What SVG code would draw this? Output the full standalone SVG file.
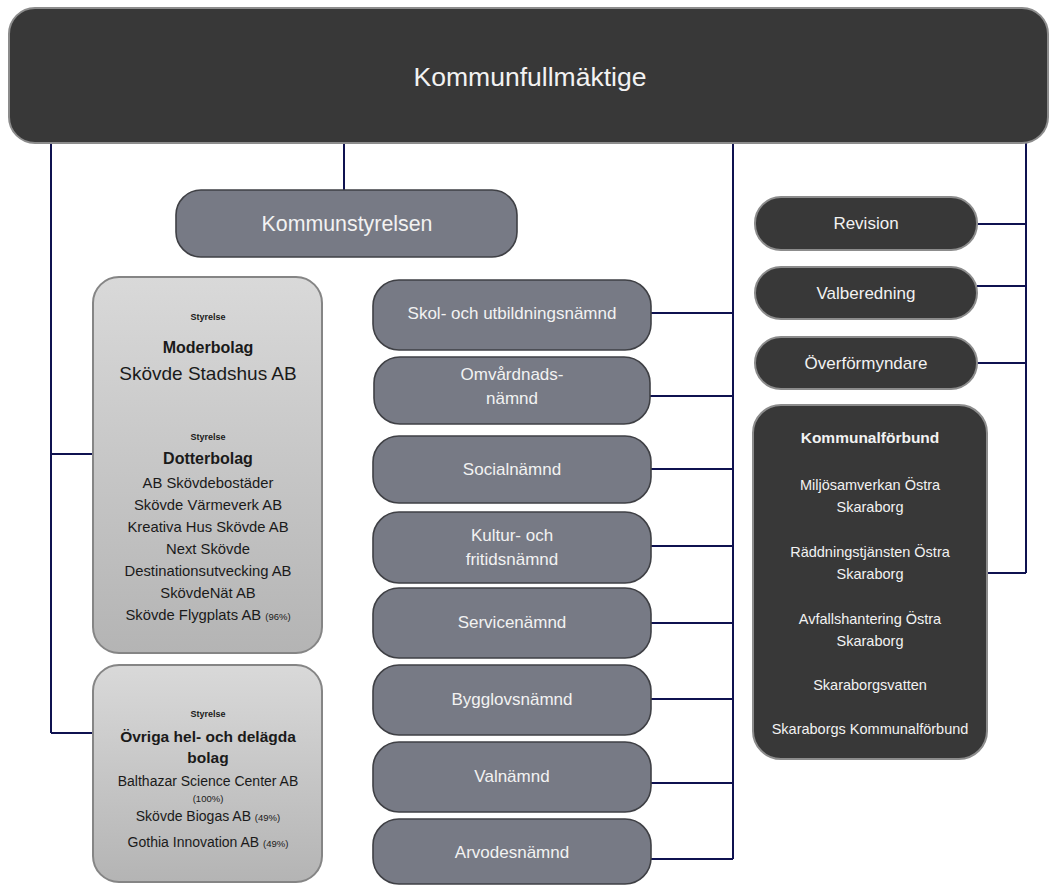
<svg xmlns="http://www.w3.org/2000/svg" width="1052" height="885" viewBox="0 0 1052 885">
<defs>
<linearGradient id="lg" x1="0" y1="0" x2="0" y2="1">
<stop offset="0" stop-color="#d9d9d9"/>
<stop offset="1" stop-color="#b4b4b4"/>
</linearGradient>
<style>
text{font-family:"Liberation Sans",Arial,sans-serif;text-anchor:middle}
.dark{fill:#383838;stroke:#8c8c8c;stroke-width:2}
.mid{fill:#777a85;stroke:#3f4045;stroke-width:1.6}
.light{fill:url(#lg);stroke:#858585;stroke-width:2}
.wt{fill:#f2f2f2}
.bt{fill:#1a1a1a}
.n{font-size:17px}
.r{font-size:14.5px}
.b{font-weight:bold}
.s{font-size:9px;font-weight:bold}
.l{font-size:14.8px}
.p{font-size:9.5px}
.con{stroke:#0f1250;stroke-width:2;fill:none}
</style>
</defs>
<rect width="1052" height="885" fill="#ffffff"/>
<g id="connectors" class="con">
<path d="M51 143 V733 M51 454 H93 M51 733 H93"/>
<path d="M344 143 V190"/>
<path d="M733 143 V859 M651 313 H733 M650 396 H733 M651 469 H733 M651 546 H733 M651 623 H733 M651 699 H733 M651 783 H733 M651 859 H733"/>
<path d="M1026 143 V573 M977 224 H1026 M977 286 H1026 M977 363 H1026 M987 573 H1026"/>
</g>
<g id="kommunfullmaktige">
<rect class="dark" x="9" y="8" width="1039" height="135" rx="26"/>
<text class="wt" x="530" y="86" font-size="26" textLength="233" lengthAdjust="spacingAndGlyphs">Kommunfullmäktige</text>
</g>
<g id="kommunstyrelsen">
<rect class="mid" x="176" y="190" width="341" height="67" rx="25"/>
<text class="wt" x="347" y="231" font-size="22" textLength="171" lengthAdjust="spacingAndGlyphs">Kommunstyrelsen</text>
</g>
<g id="moderbolag">
<rect class="light" x="93" y="277" width="229" height="376" rx="26"/>
<text class="bt s" x="208" y="320">Styrelse</text>
<text class="bt b" x="208" y="353" font-size="16">Moderbolag</text>
<text class="bt" x="208" y="380" font-size="19">Skövde Stadshus AB</text>
<text class="bt s" x="208" y="440">Styrelse</text>
<text class="bt b" x="208" y="464" font-size="16">Dotterbolag</text>
<text class="bt l" x="208" y="488">AB Skövdebostäder</text>
<text class="bt l" x="208" y="510">Skövde Värmeverk AB</text>
<text class="bt l" x="208" y="532">Kreativa Hus Skövde AB</text>
<text class="bt l" x="208" y="554">Next Skövde</text>
<text class="bt l" x="208" y="576">Destinationsutvecking AB</text>
<text class="bt l" x="208" y="598">SkövdeNät AB</text>
<text class="bt l" x="208" y="620">Skövde Flygplats AB <tspan class="p">(96%)</tspan></text>
</g>
<g id="ovriga-bolag">
<rect class="light" x="93" y="665" width="229" height="217" rx="26"/>
<text class="bt s" x="208" y="717">Styrelse</text>
<text class="bt b" x="208" y="742" font-size="15.5">Övriga hel- och delägda</text>
<text class="bt b" x="208" y="763" font-size="15.5">bolag</text>
<text class="bt" x="208" y="786" font-size="14">Balthazar Science Center AB</text>
<text class="bt p" x="208" y="802">(100%)</text>
<text class="bt" x="208" y="821" font-size="14">Skövde Biogas AB <tspan class="p">(49%)</tspan></text>
<text class="bt" x="208" y="847" font-size="14">Gothia Innovation AB <tspan class="p">(49%)</tspan></text>
</g>
<g id="skol-och-utbildningsnamnd">
<rect class="mid" x="373" y="280" width="278" height="70" rx="26"/>
<text class="wt n" x="512" y="319">Skol- och utbildningsnämnd</text>
</g>
<g id="omvardnadsnamnd">
<rect class="mid" x="374" y="357" width="276" height="67" rx="26"/>
<text class="wt n" x="512" y="380">Omvårdnads-</text>
<text class="wt n" x="512" y="404">nämnd</text>
</g>
<g id="socialnamnd">
<rect class="mid" x="373" y="436" width="278" height="67" rx="26"/>
<text class="wt n" x="512" y="475">Socialnämnd</text>
</g>
<g id="kultur-och-fritidsnamnd">
<rect class="mid" x="373" y="512" width="278" height="71" rx="26"/>
<text class="wt n" x="512" y="541">Kultur- och</text>
<text class="wt n" x="512" y="565">fritidsnämnd</text>
</g>
<g id="servicenamnd">
<rect class="mid" x="373" y="588" width="278" height="70" rx="26"/>
<text class="wt n" x="512" y="628">Servicenämnd</text>
</g>
<g id="bygglovsnamnd">
<rect class="mid" x="373" y="665" width="278" height="70" rx="26"/>
<text class="wt n" x="512" y="705">Bygglovsnämnd</text>
</g>
<g id="valnamnd">
<rect class="mid" x="373" y="742" width="278" height="70" rx="26"/>
<text class="wt n" x="512" y="782">Valnämnd</text>
</g>
<g id="arvodesnamnd">
<rect class="mid" x="373" y="819" width="278" height="65" rx="26"/>
<text class="wt n" x="512" y="858">Arvodesnämnd</text>
</g>
<g id="revision">
<rect class="dark" x="755" y="197" width="222" height="53" rx="26"/>
<text class="wt n" x="866" y="229">Revision</text>
</g>
<g id="valberedning">
<rect class="dark" x="755" y="267" width="222" height="52" rx="26"/>
<text class="wt n" x="866" y="299">Valberedning</text>
</g>
<g id="overformyndare">
<rect class="dark" x="755" y="337" width="222" height="52" rx="26"/>
<text class="wt n" x="866" y="369">Överförmyndare</text>
</g>
<g id="kommunalforbund">
<rect class="dark" x="753" y="405" width="234" height="354" rx="28"/>
<text class="wt b" x="870" y="443" font-size="15.5">Kommunalförbund</text>
<text class="wt r" x="870" y="490">Miljösamverkan Östra</text>
<text class="wt r" x="870" y="512">Skaraborg</text>
<text class="wt r" x="870" y="557">Räddningstjänsten Östra</text>
<text class="wt r" x="870" y="579">Skaraborg</text>
<text class="wt r" x="870" y="624">Avfallshantering Östra</text>
<text class="wt r" x="870" y="646">Skaraborg</text>
<text class="wt r" x="870" y="690">Skaraborgsvatten</text>
<text class="wt r" x="870" y="734">Skaraborgs Kommunalförbund</text>
</g>
</svg>
